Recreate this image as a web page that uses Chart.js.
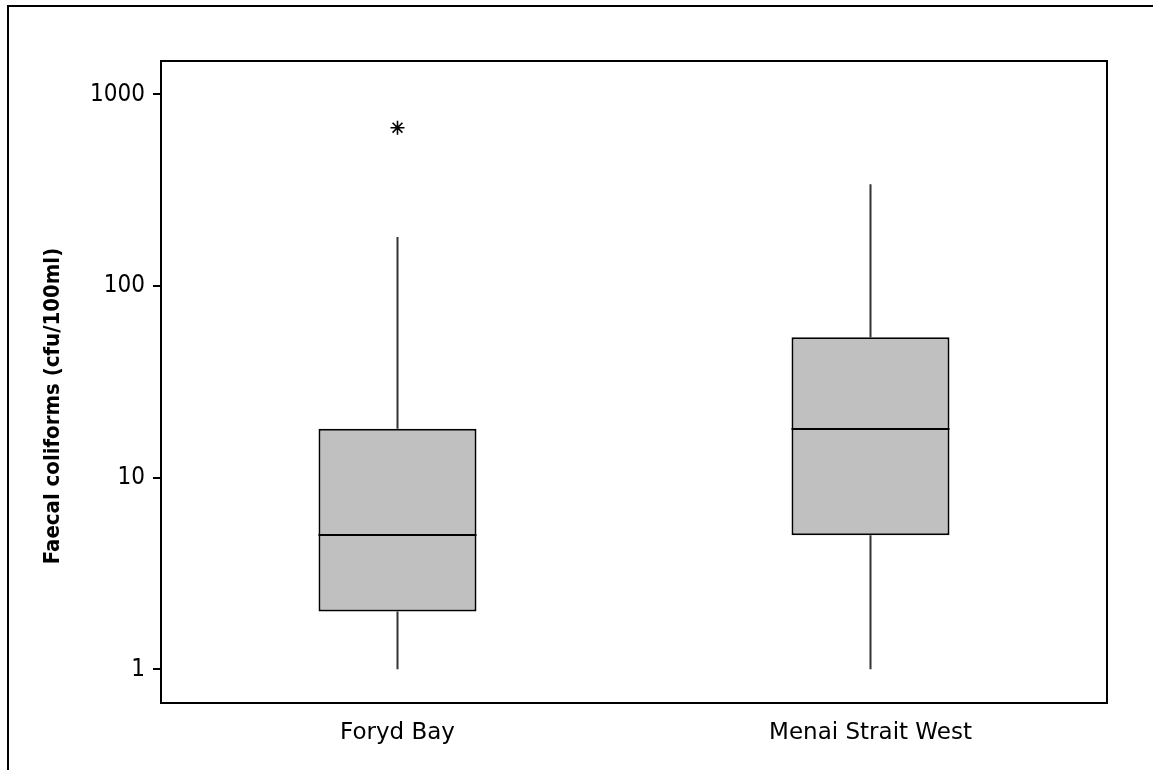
<!DOCTYPE html>
<html>
<head>
<meta charset="utf-8">
<script src="https://cdn.jsdelivr.net/npm/chart.js@4/dist/chart.umd.min.js"></script>
<style>
  html, body { margin: 0; padding: 0; background: #fff; }
  #wrap { width: 1153px; height: 770px; position: relative; }
</style>
</head>
<body>
<div id="wrap"><canvas id="c" width="1153" height="770"></canvas></div>
<script>
// Box-plot summaries per sampling site (cfu/100ml)
const sites = ['Foryd Bay', 'Menai Strait West'];
const whiskerLow = [1, 1];
const quartile1 = [2, 5];
const medians = [5, 18];
const quartile3 = [18, 54];
const whiskerHigh = [180, 340];
const outlierSites = ['Foryd Bay'];
const outlierValues = [670];
const yTicks = [1, 10, 100, 1000];
const yTitle = 'Faecal coliforms (cfu/100ml)';

const yTickFont = { family: '"DejaVu Sans Condensed", "DejaVu Sans", sans-serif', size: 24 };
const xTickFont = { family: '"DejaVu Sans", sans-serif', size: 23 };

// Whiskers behind the boxes, medians on top, plus plot frame and rotated title
const boxExtras = {
  id: 'boxExtras',
  beforeDatasetsDraw(chart) {
    const ctx = chart.ctx, y = chart.scales.y;
    const meta = chart.getDatasetMeta(0);
    ctx.save();
    ctx.strokeStyle = '#333';
    ctx.lineWidth = 2;
    meta.data.forEach((bar, i) => {
      ctx.beginPath();
      ctx.moveTo(bar.x, y.getPixelForValue(whiskerHigh[i]));
      ctx.lineTo(bar.x, y.getPixelForValue(quartile3[i]));
      ctx.moveTo(bar.x, y.getPixelForValue(quartile1[i]));
      ctx.lineTo(bar.x, y.getPixelForValue(whiskerLow[i]));
      ctx.stroke();
    });
    ctx.restore();
  },
  afterDatasetsDraw(chart) {
    const ctx = chart.ctx, y = chart.scales.y;
    const meta = chart.getDatasetMeta(0);
    ctx.save();
    ctx.strokeStyle = '#000';
    ctx.lineWidth = 2;
    meta.data.forEach((bar, i) => {
      const py = Math.round(y.getPixelForValue(medians[i]));
      ctx.beginPath();
      ctx.moveTo(bar.x - bar.width / 2, py);
      ctx.lineTo(bar.x + bar.width / 2, py);
      ctx.stroke();
    });
    const a = chart.chartArea;
    ctx.strokeRect(a.left, a.top, a.right - a.left, a.bottom - a.top);
    ctx.restore();
  },
  afterDraw(chart) {
    const ctx = chart.ctx;
    ctx.save();
    // outer figure frame
    ctx.strokeStyle = '#000';
    ctx.lineWidth = 2;
    ctx.beginPath();
    ctx.moveTo(8, chart.height);
    ctx.lineTo(8, 6);
    ctx.lineTo(chart.width, 6);
    ctx.stroke();
    // y-axis title
    ctx.translate(53, 406);
    ctx.rotate(-Math.PI / 2);
    ctx.fillStyle = '#000';
    ctx.font = 'bold 22px "DejaVu Sans Condensed", "DejaVu Sans", sans-serif';
    ctx.textAlign = 'center';
    ctx.textBaseline = 'middle';
    ctx.fillText(yTitle, 0, 0);
    ctx.restore();
  }
};

new Chart(document.getElementById('c'), {
  type: 'bar',
  data: {
    labels: sites,
    datasets: [
      {
        type: 'bar',
        data: sites.map((s, i) => [quartile1[i], quartile3[i]]),
        backgroundColor: '#c0c0c0',
        borderColor: '#000',
        borderWidth: 2,
        borderSkipped: false,
        categoryPercentage: 1,
        barPercentage: 0.334
      },
      {
        type: 'scatter',
        data: outlierSites.map((s, i) => ({ x: s, y: outlierValues[i] })),
        pointStyle: 'star',
        radius: 7,
        borderColor: '#000',
        backgroundColor: '#000',
        borderWidth: 1.6
      }
    ]
  },
  options: {
    responsive: false,
    devicePixelRatio: 1,
    animation: false,
    events: [],
    layout: { padding: { left: 0, right: 46, top: 61, bottom: 0 } },
    plugins: { legend: { display: false }, tooltip: { enabled: false }, title: { display: false } },
    scales: {
      x: {
        type: 'category',
        offset: true,
        grid: { display: false, drawTicks: false },
        border: { display: false },
        ticks: { color: '#000', font: xTickFont, padding: 16, maxRotation: 0 },
        afterFit(s) { s.height = 67; }
      },
      y: {
        type: 'logarithmic',
        min: 0.667,
        max: 1494,
        grid: { drawOnChartArea: false, drawTicks: true, tickLength: 8, color: '#000', lineWidth: 2 },
        border: { display: false },
        ticks: { color: '#000', font: yTickFont, padding: 8, callback: v => String(v) },
        afterBuildTicks(s) { s.ticks = yTicks.map(v => ({ value: v })); },
        afterFit(s) { s.width = 161; }
      }
    }
  },
  plugins: [boxExtras]
});
</script>
</body>
</html>
